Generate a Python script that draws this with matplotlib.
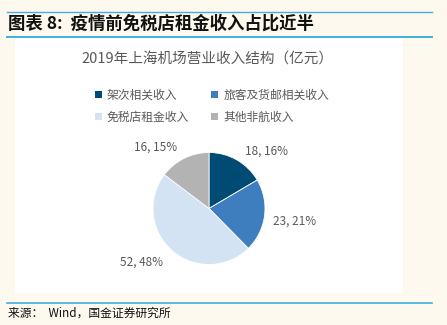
import numpy as np
import matplotlib.pyplot as plt
from matplotlib.patches import Rectangle, Patch

plt.rcParams['font.family'] = ['Noto Sans CJK SC', 'DejaVu Sans']

categories = ['架次相关收入', '旅客及货邮相关收入', '免税店租金收入', '其他非航收入']
values = [18, 23, 52, 16]
shares = [16, 21, 48, 15]
colors = ['#004B73', '#3F7EBE', '#D3E3F3', '#B3B3B3']

W, H = 447, 325
fig = plt.figure(figsize=(W / 100, H / 100), dpi=100)
fig.patch.set_facecolor('#FDF9EF')

def fx(px):
    return px / W

def fy(py):
    return 1 - py / H

# white panel
fig.patches.append(Rectangle((fx(15), fy(293)), fx(403) - fx(15), fy(37) - fy(293),
                             transform=fig.transFigure, facecolor='white', edgecolor='none', zorder=-10))
# header / footer rules
line_c = '#41AEDD'
for y, lw in [(11.7, 1.0), (36.5, 1.4), (302.7, 1.2)]:
    fig.add_artist(plt.Line2D([fx(7), fx(432)], [fy(y), fy(y)], transform=fig.transFigure,
                              color=line_c, lw=lw))

fig.text(fx(8), fy(24), '图表 8:  疫情前免税店租金收入占比近半', fontsize=12.5,
         fontweight='bold', style='italic', color='#111111', va='center', ha='left')
fig.text(fx(8), fy(313), '来源：  Wind，国金证券研究所', fontsize=8.5,
         color='#111111', va='center', ha='left')
fig.text(fx(207), fy(60), '2019年上海机场营业收入结构（亿元）', fontsize=10.5,
         color='#595959', va='center', ha='center')

# pie
r = 56
cx, cy = 209, 208.5
ax = fig.add_axes([fx(cx - r), fy(cy + r), 2 * r / W, 2 * r / H], zorder=5)
wedges, _ = ax.pie(values, colors=colors, startangle=90, counterclock=False,
                   wedgeprops=dict(edgecolor='white', linewidth=0.6))
ax.set_xlim(-1, 1)
ax.set_ylim(-1, 1)
ax.set_aspect('auto')
ax.axis('off')

# data labels outside the pie
nudge = [-15, -1, -10, 15]
dist = [1.45, 1.54, 1.54, 1.45]
for w, v, s, dn, d in zip(wedges, values, shares, nudge, dist):
    ang = np.deg2rad((w.theta1 + w.theta2) / 2 + dn)
    ax.text(d * np.cos(ang), d * np.sin(ang), f'{v}, {s}%', fontsize=8.5,
            color='#595959', ha='center', va='center', clip_on=False)

handles = [Patch(facecolor=c, edgecolor='none') for c in colors]
order = [0, 2, 1, 3]
fig.legend([handles[i] for i in order], [categories[i] for i in order], ncol=2,
           loc='upper left', bbox_to_anchor=(fx(89), fy(83)), frameon=False,
           fontsize=8.5, labelcolor='#595959', handlelength=0.6, handleheight=0.6,
           handletextpad=0.4, columnspacing=1.9, labelspacing=0.75, borderpad=0)

fig.savefig('out.png', dpi=100, facecolor=fig.get_facecolor())
